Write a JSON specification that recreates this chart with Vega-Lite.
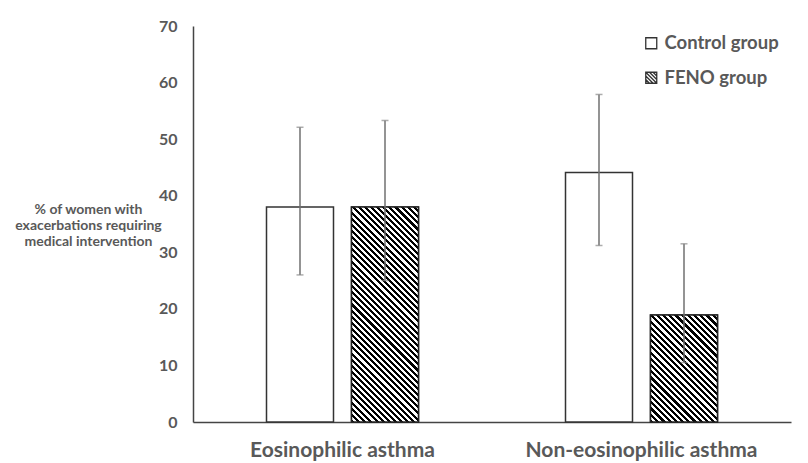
{
  "$schema": "https://vega.github.io/schema/vega-lite/v6.json",
  "width": 598,
  "height": 396,
  "autosize": {"type": "none"},
  "padding": {"left": 193, "top": 26, "right": 17, "bottom": 41},
  "background": "white",
  "config": {"view": {"stroke": null}, "font": "Lato"},
  "data": {"values": [
    {"asthma": "Eosinophilic asthma", "group": "Control group", "value": 38, "lo": 26, "hi": 52.1},
    {"asthma": "Eosinophilic asthma", "group": "FENO group", "value": 38, "lo": 25, "hi": 53.3},
    {"asthma": "Non-eosinophilic asthma", "group": "Control group", "value": 44.1, "lo": 31.2, "hi": 57.9},
    {"asthma": "Non-eosinophilic asthma", "group": "FENO group", "value": 18.9, "lo": 10.5, "hi": 31.5}
  ]},
  "encoding": {
    "x": {"field": "asthma", "type": "nominal", "sort": null,
      "scale": {"paddingInner": 0, "paddingOuter": 0},
      "axis": {"title": null, "ticks": false, "domainColor": "#444", "domainWidth": 1.5, "labelAngle": 0, "labelLimit": 0,
        "labelFont": "Lato", "labelFontWeight": "bold", "labelFontSize": 21, "labelColor": "#595959", "labelPadding": 17}},
    "xOffset": {"field": "group", "type": "nominal", "sort": null,
      "scale": {"paddingInner": 0.2118, "paddingOuter": 0.8647}}
  },
  "layer": [
    {
      "mark": {"type": "bar", "stroke": "#333", "strokeWidth": 1.5},
      "encoding": {
        "y": {"field": "value", "type": "quantitative", "scale": {"domain": [0, 70]},
          "axis": {"values": [0, 10, 20, 30, 40, 50, 60, 70], "ticks": false, "grid": false,
            "domainColor": "#444", "domainWidth": 1.5,
            "labelFont": "Lato", "labelFontWeight": "bold", "labelFontSize": 16, "labelColor": "#595959", "labelPadding": 16,
            "title": ["% of women with", "exacerbations requiring", "medical intervention"],
            "titleAngle": 0, "titleAlign": "center", "titleBaseline": "top", "titleX": -105, "titleY": 176,
            "titleFont": "Lato", "titleFontSize": 14, "titleFontWeight": "bold", "titleColor": "#595959", "titleLineHeight": 16}},
        "fill": {"field": "group", "type": "nominal", "sort": null,
          "scale": {"range": ["#ffffff", "#ffffff"]},
          "legend": {"title": null, "orient": "none", "legendX": 449, "legendY": 8, "padding": 0,
            "labelFont": "Lato", "labelFontSize": 18.5, "labelFontWeight": "bold", "labelColor": "#595959", "labelLimit": 0,
            "symbolSize": 121, "symbolType": "square", "symbolStrokeColor": "#333", "symbolStrokeWidth": 1.3,
            "rowPadding": 15.5, "labelOffset": 4,
            "encode": {"symbols": {"update": {
              "shape": {"signal": "datum.value === 'FENO group' ? 'M-1,-1H1V1H-1Z M-1,-1L1,1 M-0.33,-1L1,0.33 M0.33,-1L1,-0.33 M-1,-0.33L0.33,1 M-1,0.33L-0.33,1' : 'square'"},
              "fill": {"value": "#ffffff"},
              "stroke": {"value": "#333"},
              "strokeWidth": {"value": 1.3}
            }}}}}
      }
    },
    {
      "transform": [{"filter": "datum.group === 'FENO group' && datum.asthma === 'Eosinophilic asthma'"}],
      "mark": {"type": "bar", "stroke": "#222", "strokeWidth": 1.5,
        "fill": {"gradient": "linear", "x1": 0, "y1": 1, "x2": 0.3726, "y2": -0.1955, "stops": [
{"offset":0,"color":"#000"},{"offset":0.01087,"color":"#000"},{"offset":0.01087,"color":"#fff"},{"offset":0.02174,"color":"#fff"},
{"offset":0.02174,"color":"#000"},{"offset":0.03261,"color":"#000"},{"offset":0.03261,"color":"#fff"},{"offset":0.04348,"color":"#fff"},
{"offset":0.04348,"color":"#000"},{"offset":0.05435,"color":"#000"},{"offset":0.05435,"color":"#fff"},{"offset":0.06522,"color":"#fff"},
{"offset":0.06522,"color":"#000"},{"offset":0.07609,"color":"#000"},{"offset":0.07609,"color":"#fff"},{"offset":0.08696,"color":"#fff"},
{"offset":0.08696,"color":"#000"},{"offset":0.09783,"color":"#000"},{"offset":0.09783,"color":"#fff"},{"offset":0.1087,"color":"#fff"},
{"offset":0.1087,"color":"#000"},{"offset":0.11957,"color":"#000"},{"offset":0.11957,"color":"#fff"},{"offset":0.13043,"color":"#fff"},
{"offset":0.13043,"color":"#000"},{"offset":0.1413,"color":"#000"},{"offset":0.1413,"color":"#fff"},{"offset":0.15217,"color":"#fff"},
{"offset":0.15217,"color":"#000"},{"offset":0.16304,"color":"#000"},{"offset":0.16304,"color":"#fff"},{"offset":0.17391,"color":"#fff"},
{"offset":0.17391,"color":"#000"},{"offset":0.18478,"color":"#000"},{"offset":0.18478,"color":"#fff"},{"offset":0.19565,"color":"#fff"},
{"offset":0.19565,"color":"#000"},{"offset":0.20652,"color":"#000"},{"offset":0.20652,"color":"#fff"},{"offset":0.21739,"color":"#fff"},
{"offset":0.21739,"color":"#000"},{"offset":0.22826,"color":"#000"},{"offset":0.22826,"color":"#fff"},{"offset":0.23913,"color":"#fff"},
{"offset":0.23913,"color":"#000"},{"offset":0.25,"color":"#000"},{"offset":0.25,"color":"#fff"},{"offset":0.26087,"color":"#fff"},
{"offset":0.26087,"color":"#000"},{"offset":0.27174,"color":"#000"},{"offset":0.27174,"color":"#fff"},{"offset":0.28261,"color":"#fff"},
{"offset":0.28261,"color":"#000"},{"offset":0.29348,"color":"#000"},{"offset":0.29348,"color":"#fff"},{"offset":0.30435,"color":"#fff"},
{"offset":0.30435,"color":"#000"},{"offset":0.31522,"color":"#000"},{"offset":0.31522,"color":"#fff"},{"offset":0.32609,"color":"#fff"},
{"offset":0.32609,"color":"#000"},{"offset":0.33696,"color":"#000"},{"offset":0.33696,"color":"#fff"},{"offset":0.34783,"color":"#fff"},
{"offset":0.34783,"color":"#000"},{"offset":0.3587,"color":"#000"},{"offset":0.3587,"color":"#fff"},{"offset":0.36957,"color":"#fff"},
{"offset":0.36957,"color":"#000"},{"offset":0.38043,"color":"#000"},{"offset":0.38043,"color":"#fff"},{"offset":0.3913,"color":"#fff"},
{"offset":0.3913,"color":"#000"},{"offset":0.40217,"color":"#000"},{"offset":0.40217,"color":"#fff"},{"offset":0.41304,"color":"#fff"},
{"offset":0.41304,"color":"#000"},{"offset":0.42391,"color":"#000"},{"offset":0.42391,"color":"#fff"},{"offset":0.43478,"color":"#fff"},
{"offset":0.43478,"color":"#000"},{"offset":0.44565,"color":"#000"},{"offset":0.44565,"color":"#fff"},{"offset":0.45652,"color":"#fff"},
{"offset":0.45652,"color":"#000"},{"offset":0.46739,"color":"#000"},{"offset":0.46739,"color":"#fff"},{"offset":0.47826,"color":"#fff"},
{"offset":0.47826,"color":"#000"},{"offset":0.48913,"color":"#000"},{"offset":0.48913,"color":"#fff"},{"offset":0.5,"color":"#fff"},
{"offset":0.5,"color":"#000"},{"offset":0.51087,"color":"#000"},{"offset":0.51087,"color":"#fff"},{"offset":0.52174,"color":"#fff"},
{"offset":0.52174,"color":"#000"},{"offset":0.53261,"color":"#000"},{"offset":0.53261,"color":"#fff"},{"offset":0.54348,"color":"#fff"},
{"offset":0.54348,"color":"#000"},{"offset":0.55435,"color":"#000"},{"offset":0.55435,"color":"#fff"},{"offset":0.56522,"color":"#fff"},
{"offset":0.56522,"color":"#000"},{"offset":0.57609,"color":"#000"},{"offset":0.57609,"color":"#fff"},{"offset":0.58696,"color":"#fff"},
{"offset":0.58696,"color":"#000"},{"offset":0.59783,"color":"#000"},{"offset":0.59783,"color":"#fff"},{"offset":0.6087,"color":"#fff"},
{"offset":0.6087,"color":"#000"},{"offset":0.61957,"color":"#000"},{"offset":0.61957,"color":"#fff"},{"offset":0.63043,"color":"#fff"},
{"offset":0.63043,"color":"#000"},{"offset":0.6413,"color":"#000"},{"offset":0.6413,"color":"#fff"},{"offset":0.65217,"color":"#fff"},
{"offset":0.65217,"color":"#000"},{"offset":0.66304,"color":"#000"},{"offset":0.66304,"color":"#fff"},{"offset":0.67391,"color":"#fff"},
{"offset":0.67391,"color":"#000"},{"offset":0.68478,"color":"#000"},{"offset":0.68478,"color":"#fff"},{"offset":0.69565,"color":"#fff"},
{"offset":0.69565,"color":"#000"},{"offset":0.70652,"color":"#000"},{"offset":0.70652,"color":"#fff"},{"offset":0.71739,"color":"#fff"},
{"offset":0.71739,"color":"#000"},{"offset":0.72826,"color":"#000"},{"offset":0.72826,"color":"#fff"},{"offset":0.73913,"color":"#fff"},
{"offset":0.73913,"color":"#000"},{"offset":0.75,"color":"#000"},{"offset":0.75,"color":"#fff"},{"offset":0.76087,"color":"#fff"},
{"offset":0.76087,"color":"#000"},{"offset":0.77174,"color":"#000"},{"offset":0.77174,"color":"#fff"},{"offset":0.78261,"color":"#fff"},
{"offset":0.78261,"color":"#000"},{"offset":0.79348,"color":"#000"},{"offset":0.79348,"color":"#fff"},{"offset":0.80435,"color":"#fff"},
{"offset":0.80435,"color":"#000"},{"offset":0.81522,"color":"#000"},{"offset":0.81522,"color":"#fff"},{"offset":0.82609,"color":"#fff"},
{"offset":0.82609,"color":"#000"},{"offset":0.83696,"color":"#000"},{"offset":0.83696,"color":"#fff"},{"offset":0.84783,"color":"#fff"},
{"offset":0.84783,"color":"#000"},{"offset":0.8587,"color":"#000"},{"offset":0.8587,"color":"#fff"},{"offset":0.86957,"color":"#fff"},
{"offset":0.86957,"color":"#000"},{"offset":0.88043,"color":"#000"},{"offset":0.88043,"color":"#fff"},{"offset":0.8913,"color":"#fff"},
{"offset":0.8913,"color":"#000"},{"offset":0.90217,"color":"#000"},{"offset":0.90217,"color":"#fff"},{"offset":0.91304,"color":"#fff"},
{"offset":0.91304,"color":"#000"},{"offset":0.92391,"color":"#000"},{"offset":0.92391,"color":"#fff"},{"offset":0.93478,"color":"#fff"},
{"offset":0.93478,"color":"#000"},{"offset":0.94565,"color":"#000"},{"offset":0.94565,"color":"#fff"},{"offset":0.95652,"color":"#fff"},
{"offset":0.95652,"color":"#000"},{"offset":0.96739,"color":"#000"},{"offset":0.96739,"color":"#fff"},{"offset":0.97826,"color":"#fff"},
{"offset":0.97826,"color":"#000"},{"offset":0.98913,"color":"#000"},{"offset":0.98913,"color":"#fff"},{"offset":1,"color":"#fff"}
        ]}},
      "encoding": {"y": {"field": "value", "type": "quantitative"}}
    },
    {
      "transform": [{"filter": "datum.group === 'FENO group' && datum.asthma === 'Non-eosinophilic asthma'"}],
      "mark": {"type": "bar", "stroke": "#222", "strokeWidth": 1.5,
        "fill": {"gradient": "linear", "x1": 0, "y1": 1, "x2": 0.732, "y2": -0.1679, "stops": [
{"offset":0,"color":"#000"},{"offset":0.01786,"color":"#000"},{"offset":0.01786,"color":"#fff"},{"offset":0.03571,"color":"#fff"},
{"offset":0.03571,"color":"#000"},{"offset":0.05357,"color":"#000"},{"offset":0.05357,"color":"#fff"},{"offset":0.07143,"color":"#fff"},
{"offset":0.07143,"color":"#000"},{"offset":0.08929,"color":"#000"},{"offset":0.08929,"color":"#fff"},{"offset":0.10714,"color":"#fff"},
{"offset":0.10714,"color":"#000"},{"offset":0.125,"color":"#000"},{"offset":0.125,"color":"#fff"},{"offset":0.14286,"color":"#fff"},
{"offset":0.14286,"color":"#000"},{"offset":0.16071,"color":"#000"},{"offset":0.16071,"color":"#fff"},{"offset":0.17857,"color":"#fff"},
{"offset":0.17857,"color":"#000"},{"offset":0.19643,"color":"#000"},{"offset":0.19643,"color":"#fff"},{"offset":0.21429,"color":"#fff"},
{"offset":0.21429,"color":"#000"},{"offset":0.23214,"color":"#000"},{"offset":0.23214,"color":"#fff"},{"offset":0.25,"color":"#fff"},
{"offset":0.25,"color":"#000"},{"offset":0.26786,"color":"#000"},{"offset":0.26786,"color":"#fff"},{"offset":0.28571,"color":"#fff"},
{"offset":0.28571,"color":"#000"},{"offset":0.30357,"color":"#000"},{"offset":0.30357,"color":"#fff"},{"offset":0.32143,"color":"#fff"},
{"offset":0.32143,"color":"#000"},{"offset":0.33929,"color":"#000"},{"offset":0.33929,"color":"#fff"},{"offset":0.35714,"color":"#fff"},
{"offset":0.35714,"color":"#000"},{"offset":0.375,"color":"#000"},{"offset":0.375,"color":"#fff"},{"offset":0.39286,"color":"#fff"},
{"offset":0.39286,"color":"#000"},{"offset":0.41071,"color":"#000"},{"offset":0.41071,"color":"#fff"},{"offset":0.42857,"color":"#fff"},
{"offset":0.42857,"color":"#000"},{"offset":0.44643,"color":"#000"},{"offset":0.44643,"color":"#fff"},{"offset":0.46429,"color":"#fff"},
{"offset":0.46429,"color":"#000"},{"offset":0.48214,"color":"#000"},{"offset":0.48214,"color":"#fff"},{"offset":0.5,"color":"#fff"},
{"offset":0.5,"color":"#000"},{"offset":0.51786,"color":"#000"},{"offset":0.51786,"color":"#fff"},{"offset":0.53571,"color":"#fff"},
{"offset":0.53571,"color":"#000"},{"offset":0.55357,"color":"#000"},{"offset":0.55357,"color":"#fff"},{"offset":0.57143,"color":"#fff"},
{"offset":0.57143,"color":"#000"},{"offset":0.58929,"color":"#000"},{"offset":0.58929,"color":"#fff"},{"offset":0.60714,"color":"#fff"},
{"offset":0.60714,"color":"#000"},{"offset":0.625,"color":"#000"},{"offset":0.625,"color":"#fff"},{"offset":0.64286,"color":"#fff"},
{"offset":0.64286,"color":"#000"},{"offset":0.66071,"color":"#000"},{"offset":0.66071,"color":"#fff"},{"offset":0.67857,"color":"#fff"},
{"offset":0.67857,"color":"#000"},{"offset":0.69643,"color":"#000"},{"offset":0.69643,"color":"#fff"},{"offset":0.71429,"color":"#fff"},
{"offset":0.71429,"color":"#000"},{"offset":0.73214,"color":"#000"},{"offset":0.73214,"color":"#fff"},{"offset":0.75,"color":"#fff"},
{"offset":0.75,"color":"#000"},{"offset":0.76786,"color":"#000"},{"offset":0.76786,"color":"#fff"},{"offset":0.78571,"color":"#fff"},
{"offset":0.78571,"color":"#000"},{"offset":0.80357,"color":"#000"},{"offset":0.80357,"color":"#fff"},{"offset":0.82143,"color":"#fff"},
{"offset":0.82143,"color":"#000"},{"offset":0.83929,"color":"#000"},{"offset":0.83929,"color":"#fff"},{"offset":0.85714,"color":"#fff"},
{"offset":0.85714,"color":"#000"},{"offset":0.875,"color":"#000"},{"offset":0.875,"color":"#fff"},{"offset":0.89286,"color":"#fff"},
{"offset":0.89286,"color":"#000"},{"offset":0.91071,"color":"#000"},{"offset":0.91071,"color":"#fff"},{"offset":0.92857,"color":"#fff"},
{"offset":0.92857,"color":"#000"},{"offset":0.94643,"color":"#000"},{"offset":0.94643,"color":"#fff"},{"offset":0.96429,"color":"#fff"},
{"offset":0.96429,"color":"#000"},{"offset":0.98214,"color":"#000"},{"offset":0.98214,"color":"#fff"},{"offset":1,"color":"#fff"}
        ]}},
      "encoding": {"y": {"field": "value", "type": "quantitative"}}
    },
    {
      "mark": {"type": "rule", "color": "#707070", "strokeWidth": 1.5},
      "encoding": {"y": {"field": "lo", "type": "quantitative"}, "y2": {"field": "hi"}}
    },
    {
      "mark": {"type": "tick", "orient": "horizontal", "size": 7, "thickness": 1.5, "color": "#8a8a8a"},
      "encoding": {"y": {"field": "lo", "type": "quantitative"}}
    },
    {
      "mark": {"type": "tick", "orient": "horizontal", "size": 7, "thickness": 1.5, "color": "#8a8a8a"},
      "encoding": {"y": {"field": "hi", "type": "quantitative"}}
    }
  ]
}
